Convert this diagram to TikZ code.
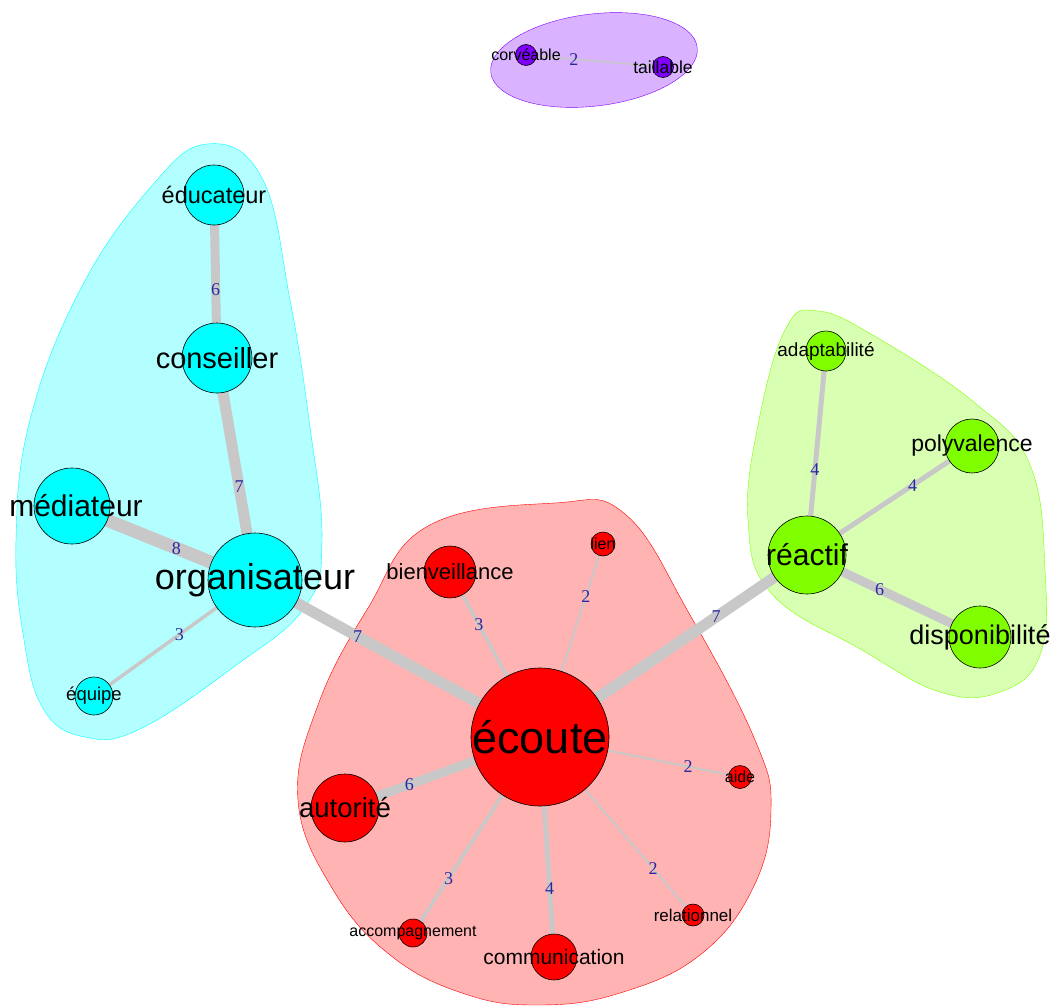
\documentclass[tikz,border=0pt]{standalone}
\usepackage{fontspec}
\setmainfont{Liberation Sans}
\newfontfamily\edgefont{Liberation Serif}
\definecolor{cRed}{RGB}{255,0,0}
\definecolor{cRedHull}{RGB}{255,179,179}
\definecolor{cGreen}{RGB}{128,255,0}
\definecolor{cGreenHull}{RGB}{217,255,179}
\definecolor{cCyan}{RGB}{0,255,255}
\definecolor{cCyanHull}{RGB}{179,255,255}
\definecolor{cPurple}{RGB}{128,0,255}
\definecolor{cPurpleHull}{RGB}{217,179,255}
\definecolor{cEdge}{RGB}{200,200,200}
\definecolor{cEdgeLab}{RGB}{40,40,160}
\newcommand\fs[1]{\fontsize{#1}{#1}\selectfont}
\pgfdeclarelayer{hulls}
\pgfdeclarelayer{edges}
\pgfsetlayers{hulls,edges,main}
\begin{document}
\begin{tikzpicture}[x=1pt, y=-1pt,
    vert/.style={circle, draw=black, line width=.6pt, inner sep=0pt, minimum size=#1},
    redv/.style={vert=#1, fill=cRed},
    greenv/.style={vert=#1, fill=cGreen},
    cyanv/.style={vert=#1, fill=cCyan},
    purplev/.style={vert=#1, fill=cPurple},
    edge/.style={draw=cEdge, line width=#1},
    elab/.style={text=cEdgeLab, font=\edgefont\fs{18}, inner sep=0pt},
    hull/.style={smooth cycle, tension=.7}]
    \useasboundingbox (0,0) rectangle (1052,1006);
    % groupes
    \begin{pgfonlayer}{hulls}
    \draw[cRed, fill=cRedHull] plot[hull] coordinates {(555,503) (625,514) (690,615) (755,740) (771,810) (753,888) (700,955) (620,993) (540,1005) (465,994) (390,955) (332,888) (298,800) (318,705) (368,608) (428,526)};
    \draw[cCyan, fill=cCyanHull] plot[hull] coordinates {(207,144) (262,178) (290,300) (309,420) (322,540) (305,607) (235,666) (140,729) (85,737) (44,710) (24,640) (16,540) (30,420) (80,290) (150,188)};
    \draw[cGreen, fill=cGreenHull] plot[hull] coordinates {(818,311) (876,337) (975,403) (1030,465) (1045,570) (1040,655) (1000,692) (940,692) (862,650) (772,594) (748,520) (759,420) (786,328)};
    \draw[cPurple, fill=cPurpleHull] (594,60) ellipse[x radius=104, y radius=46, rotate=7];
    \end{pgfonlayer}
    % sommets
    \node[redv=138pt, label={[font=\fs{45}]center:écoute}] (ecoute) at (540,737) {};
    \node[redv=52pt, label={[font=\fs{22}]center:bienveillance}] (bienv) at (450,572) {};
    \node[redv=24pt, label={[font=\fs{16}]center:lien}] (lien) at (603,544) {};
    \node[redv=68pt, label={[font=\fs{27.5}]center:autorité}] (autorite) at (345,808) {};
    \node[redv=23pt, label={[font=\fs{16}]center:aide}] (aide) at (740,777) {};
    \node[redv=22pt, label={[font=\fs{17}]center:relationnel}] (relat) at (693,915) {};
    \node[redv=46pt, label={[font=\fs{21}]center:communication}] (commun) at (554,957) {};
    \node[redv=28pt, label={[font=\fs{16}]center:accompagnement}] (accomp) at (413,933) {};
    \node[cyanv=60pt, label={[font=\fs{23.5}]center:éducateur}] (educ) at (214,195) {};
    \node[cyanv=70pt, label={[font=\fs{29}]center:conseiller}] (conseil) at (217,358) {};
    \node[cyanv=76pt, label={[font=\fs{30}, xshift=4pt]center:médiateur}] (mediat) at (72,506) {};
    \node[cyanv=94pt, label={[font=\fs{36}]center:organisateur}] (organis) at (255,580) {};
    \node[cyanv=38pt, label={[font=\fs{18.5}]center:équipe}] (equipe) at (94,696) {};
    \node[greenv=78pt, label={[font=\fs{30}]center:réactif}] (reactif) at (807,555) {};
    \node[greenv=40pt, label={[font=\fs{19}]center:adaptabilité}] (adapt) at (826,351) {};
    \node[greenv=54pt, label={[font=\fs{23}]center:polyvalence}] (polyv) at (972,446) {};
    \node[greenv=62pt, label={[font=\fs{27}]center:disponibilité}] (dispo) at (980,637) {};
    \node[purplev=21pt, label={[font=\fs{16}]center:corvéable}] (corv) at (526,55) {};
    \node[purplev=21pt, label={[font=\fs{17.5}]center:taillable}] (taill) at (663,67) {};
    % liens
    \begin{pgfonlayer}{edges}
    \draw[edge=9] (educ.center) -- node[elab, pos=.58]{6} (conseil.center);
    \draw[edge=11] (conseil.center) -- node[elab, pos=.58]{7} (organis.center);
    \draw[edge=13] (mediat.center) -- node[elab, pos=.57]{8} (organis.center);
    \draw[edge=3.5] (organis.center) -- node[elab, pos=.47]{3} (equipe.center);
    \draw[edge=11] (organis.center) -- node[elab, pos=.36]{7} (ecoute.center);
    \draw[edge=11] (ecoute.center) -- node[elab, pos=.66]{7} (reactif.center);
    \draw[edge=5] (reactif.center) -- node[elab, pos=.42]{4} (adapt.center);
    \draw[edge=5] (reactif.center) -- node[elab, pos=.64]{4} (polyv.center);
    \draw[edge=9] (reactif.center) -- node[elab, pos=.42]{6} (dispo.center);
    \draw[edge=3.5] (ecoute.center) -- node[elab, pos=.68]{3} (bienv.center);
    \draw[edge=2] (ecoute.center) -- node[elab, pos=.73]{2} (lien.center);
    \draw[edge=9] (ecoute.center) -- node[elab, pos=.67]{6} (autorite.center);
    \draw[edge=2] (ecoute.center) -- node[elab, pos=.74]{2} (aide.center);
    \draw[edge=2] (ecoute.center) -- node[elab, pos=.74]{2} (relat.center);
    \draw[edge=5] (ecoute.center) -- node[elab, pos=.69]{4} (commun.center);
    \draw[edge=3.5] (ecoute.center) -- node[elab, pos=.72]{3} (accomp.center);
    \draw[edge=1.5] (corv.center) -- node[elab, pos=.35]{2} (taill.center);
    \end{pgfonlayer}
\end{tikzpicture}
\end{document}
